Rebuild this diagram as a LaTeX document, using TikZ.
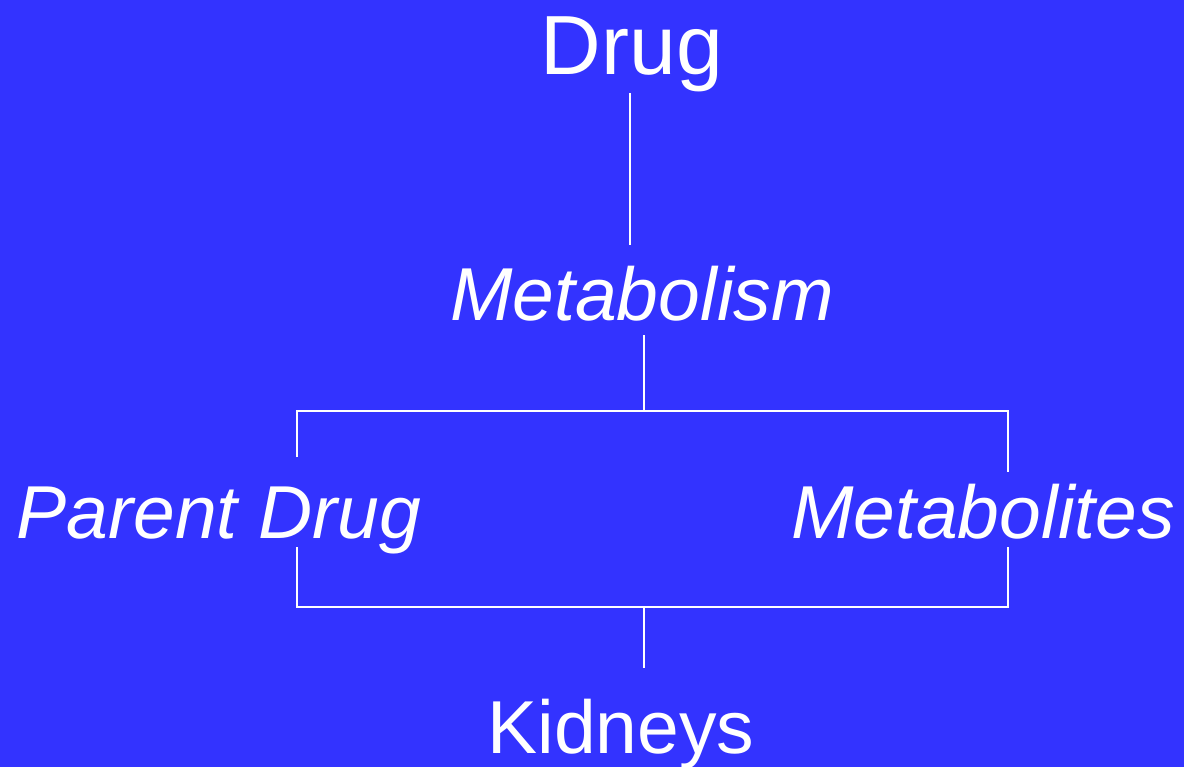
\documentclass[tikz,border=0pt]{standalone}
\usepackage{fontspec}
\setmainfont{Liberation Sans}
\definecolor{slideblue}{RGB}{51,51,255}

\begin{document}
\begin{tikzpicture}[x=0.02cm,y=-0.02cm,
   title/.style={text=white,font=\fontsize{47.8}{50}\selectfont,anchor=base,inner sep=0},
   organ/.style={text=white,font=\fontsize{42.7}{45}\selectfont,anchor=base,inner sep=0},
   term/.style={text=white,font=\fontsize{42.7}{45}\selectfont\itshape,anchor=base,inner sep=0},
   link/.style={draw=white,line width=1.1pt}]
   \fill[slideblue] (0,0) rectangle (1184,767);
   \node[title] (drug)    at (632,74)  {Drug};
   \node[term]  (metab)   at (642,320) {Metabolism};
   \node[term]  (parent)  at (219,538) {Parent Drug};
   \node[term]  (metabs)  at (983,538) {Metabolites};
   \node[organ] (kidneys) at (621,753) {Kidneys};
   % line ends and branch points
   \coordinate (drug-out)    at (630,93);
   \coordinate (metab-in)    at (630,245);
   \coordinate (metab-out)   at (644,335);
   \coordinate (split)       at (644,411);
   \coordinate (parent-in)   at (297,457);
   \coordinate (metabs-in)   at (1008,472);
   \coordinate (parent-out)  at (297,547);
   \coordinate (metabs-out)  at (1008,547);
   \coordinate (join)        at (644,607);
   \coordinate (kidneys-in)  at (644,668);
   \draw[link] (drug-out) -- (metab-in);
   \draw[link] (metab-out) -- (split);
   \draw[link] (parent-in) |- (split) -| (metabs-in);
   \draw[link] (parent-out) |- (join) -| (metabs-out);
   \draw[link] (join) -- (kidneys-in);
\end{tikzpicture}
\end{document}
